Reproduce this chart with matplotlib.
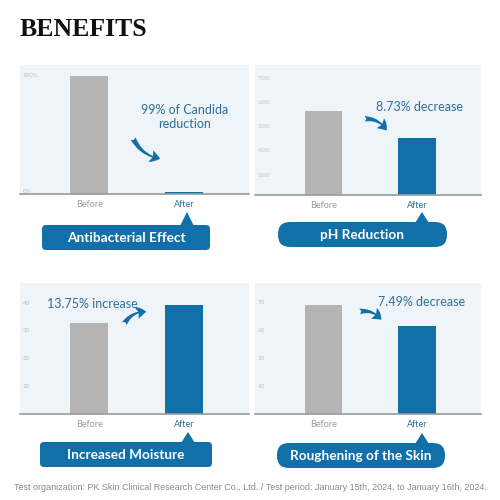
import matplotlib
matplotlib.use('Agg')
import matplotlib.pyplot as plt
from matplotlib.patches import FancyBboxPatch, Polygon, FancyArrowPatch

# data
categories = ['Before', 'After']
titles = ['Antibacterial Effect', 'pH Reduction', 'Increased Moisture', 'Roughening of the Skin']
notes = ['99% of Candida\nreduction', '8.73% decrease', '13.75% increase', '7.49% decrease']
antibacterial = [100, 2]
ph_values = [5.64, 4.53]
moisture = [32.9, 39.4]
roughness = [68.9, 61.4]
tick_values = [[0, 100], [3, 4, 5, 6, 7], [10, 20, 30, 40], [40, 50, 60, 70]]
tick_labels = [['0%', '100%'], ['3.00', '4.00', '5.00', '6.00', '7.00'],
               ['10', '20', '30', '40'], ['40', '50', '60', '70']]
footer = ('Test organization: PK Skin Clinical Research Center Co., Ltd. / '
          'Test period: January 15th, 2024, to January 16th, 2024.')

BLUE = '#1170a8'
TXT_BLUE = '#2f6e9c'
GRAY = '#b4b4b4'
BG = '#eef4f8'

W = H = 500.0


def fx(px):
    return px / W


def fy(py):
    return 1 - py / H


fig = plt.figure(figsize=(5, 5), dpi=100)
fig.patch.set_facecolor('white')

# panel layout in pixels: left, right, top, baseline
boxes = [(20, 249, 65, 194), (255, 481, 65, 195), (20, 249, 283, 414), (255, 481, 283, 414)]
ylims = [(0, 109), (2.18, 7.54), (0, 47.3), (30, 76.8)]
series = [antibacterial, ph_values, moisture, roughness]

for i, (l, r, t, b) in enumerate(boxes):
    ax = fig.add_axes([fx(l), fy(b), fx(r - l), (b - t) / H])
    ax.set_facecolor(BG)
    ax.bar([0, 1], series[i], width=0.40, color=[GRAY, BLUE], zorder=2)
    ax.set_xlim(-0.73, 1.68)
    ax.set_ylim(*ylims[i])
    for s in ['top', 'right', 'left']:
        ax.spines[s].set_visible(False)
    ax.spines['bottom'].set_color('#9a9a9a')
    ax.spines['bottom'].set_linewidth(1.2)
    ax.set_yticks([])
    ax.set_xticks([0, 1])
    ax.set_xticklabels(categories, family='Lato', fontsize=6.5)
    ax.tick_params(axis='x', length=0, pad=4)
    for lab, c in zip(ax.get_xticklabels(), ['#9b9b9b', TXT_BLUE]):
        lab.set_color(c)
    for v, s in zip(tick_values[i], tick_labels[i]):
        va = 'bottom' if v == ylims[i][0] else 'center'
        ax.text(0.012, v, s, transform=ax.get_yaxis_transform(), fontsize=4.5,
                color='#c2c2c2', va=va, ha='left', family='Lato')

# title and footer
fig.text(fx(20), fy(29), 'BENEFITS', family='Liberation Serif', weight='bold',
         fontsize=18.5, va='center', ha='left', color='#111111')
fig.text(fx(250), fy(487), footer, family='Liberation Sans', fontsize=6.5,
         color='#8a8a8a', ha='center', va='center')

# callout boxes: left, right, top, bottom, tip x, tip y, corner radius
callouts = [(42, 210, 225, 250, 187, 212, 4),
            (278, 447, 222, 247, 422, 212, 12),
            (40, 212, 442, 467, 188, 432, 4),
            (277, 445, 443, 468, 422, 433, 12)]
for (l, r, t, b, tx, ty, rad), name in zip(callouts, titles):
    box = FancyBboxPatch((fx(l + rad), fy(b - rad)), fx(r - l - 2 * rad), (b - t - 2 * rad) / H,
                         boxstyle='round,pad=%f' % (rad / W), transform=fig.transFigure,
                         facecolor=BLUE, edgecolor='none')
    fig.patches.append(box)
    tri = Polygon([(fx(tx - 7), fy(t + 1)), (fx(tx), fy(ty)), (fx(tx + 7), fy(t + 1))],
                  closed=True, transform=fig.transFigure, facecolor=BLUE, edgecolor='none')
    fig.patches.append(tri)
    fig.text(fx((l + r) / 2), fy((t + b) / 2 + 0.5), name, family='Lato', weight='bold',
             fontsize=9.8, color='white', ha='center', va='center')

# change notes and arrows: text x, text y, arrow start, arrow end, curvature
note_pos = [(185, 117, (132, 136), (163, 159), 0.3),
            (419, 107, (362, 119), (388, 133), -0.35),
            (92, 304, (123, 326), (149, 312), -0.35),
            (422, 302, (357, 312), (383, 322), -0.35)]
for (nx, ny, p0, p1, rad), txt in zip(note_pos, notes):
    fig.text(fx(nx), fy(ny), txt, family='Lato', fontsize=9, color=TXT_BLUE,
             ha='center', va='center', linespacing=1.1)
    arr = FancyArrowPatch((fx(p0[0]), fy(p0[1])), (fx(p1[0]), fy(p1[1])),
                          transform=fig.transFigure, connectionstyle='arc3,rad=%f' % rad,
                          arrowstyle='fancy,head_width=9,head_length=7,tail_width=4',
                          color=BLUE, mutation_scale=1, lw=0)
    fig.patches.append(arr)

fig.savefig('out.png', dpi=100)
